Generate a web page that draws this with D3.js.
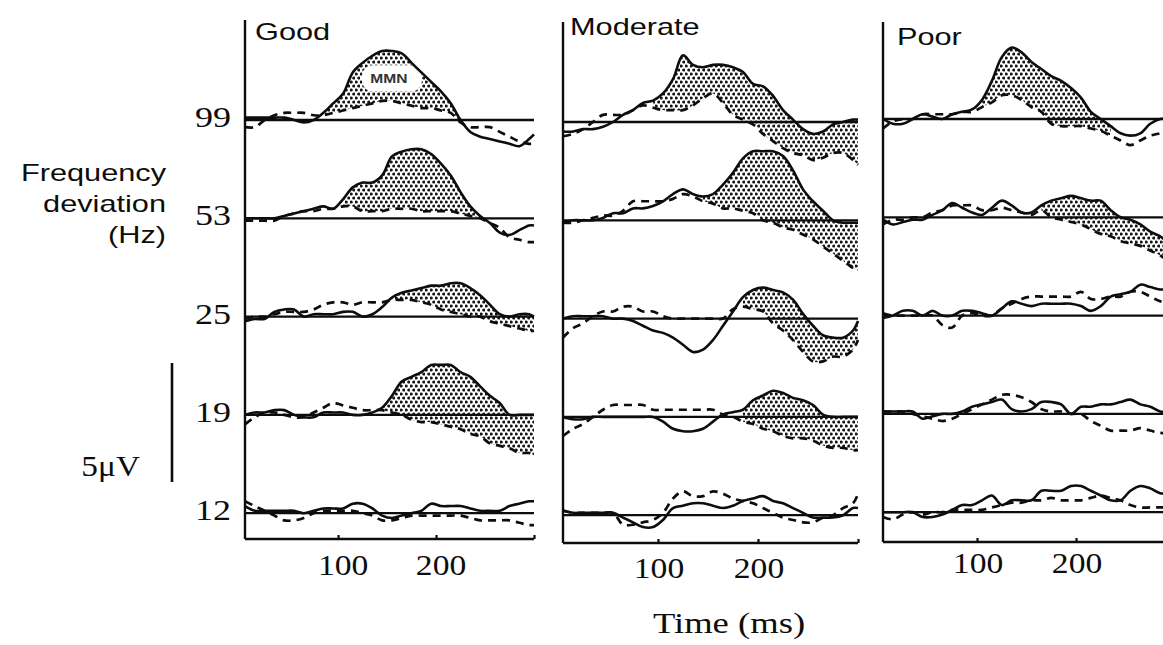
<!DOCTYPE html>
<html>
<head>
<meta charset="utf-8">
<script src="https://cdn.jsdelivr.net/npm/d3@7"></script>
<style>
  html, body { margin: 0; padding: 0; background: #fff; }
  svg { display: block; }
</style>
</head>
<body>
<svg id="chart" width="1163" height="645"></svg>
<script>
// ---- Data ---------------------------------------------------------------
// Sample times (ms) shared by every waveform
const times = [5, 15, 25, 35, 45, 55, 65, 75, 85, 95, 105, 115, 125, 135, 145,
               155, 165, 175, 185, 195, 205, 215, 225, 235, 245, 255, 265, 275,
               285, 295, 300];

const groups = ["Good", "Moderate", "Poor"];
const deviations = ["99", "53", "25", "19", "12"];   // Hz, one row each
const timeTicks = [100, 200];
const scaleBarUV = 5;

// Amplitudes in µV (negative plotted upward). Rows follow `deviations`.
// Deviant responses (solid)
const goodDeviant = [
  [-0.1,-0.1,-0.1,-0.1,-0.1,0,0.1,0,-0.3,-0.7,-1.1,-2.0,-2.4,-2.7,-2.9,-2.9,-2.8,-2.4,-2.0,-1.6,-1.2,-0.7,0,0.5,0.7,0.8,0.9,1.0,1.1,0.8,0.6],
  [0,0,0,0,-0.1,-0.2,-0.3,-0.4,-0.5,-0.4,-0.8,-1.3,-1.5,-1.5,-1.8,-2.6,-2.8,-2.9,-2.9,-2.7,-2.3,-1.8,-1.1,-0.5,-0.1,0.2,0.6,0.7,0.5,0.3,0.3],
  [0.2,0.1,0.1,-0.2,-0.3,-0.3,0,-0.1,-0.1,-0.1,-0.2,-0.2,0,-0.1,-0.4,-0.8,-1.0,-1.1,-1.2,-1.3,-1.3,-1.4,-1.4,-1.2,-0.9,-0.5,-0.1,0,-0.1,-0.1,0],
  [0,-0.1,-0.1,-0.2,-0.2,0,0.1,0.1,-0.1,-0.1,-0.1,0,0,-0.1,-0.3,-0.8,-1.4,-1.6,-1.8,-2.1,-2.1,-2.1,-1.8,-1.6,-1.2,-0.8,-0.5,0,0,0,0],
  [-0.3,-0.1,-0.1,-0.1,-0.1,-0.1,0,-0.1,-0.2,-0.2,-0.2,-0.4,-0.4,-0.2,0.1,0.2,0.1,0,-0.1,-0.4,-0.3,-0.3,-0.3,-0.2,-0.1,-0.1,-0.1,-0.3,-0.4,-0.5,-0.5]
];
const moderateDeviant = [
  [0.4,0.4,0.3,0.3,0.2,0,-0.3,-0.5,-0.8,-0.9,-1.2,-1.8,-2.8,-2.4,-2.3,-2.4,-2.4,-2.3,-2.1,-1.6,-1.5,-1.1,-0.5,-0.1,0.3,0.5,0.4,0.1,0,-0.1,-0.1],
  [0.1,0,0,0,-0.1,-0.3,-0.3,-0.5,-0.5,-0.6,-0.8,-1.1,-1.3,-1.1,-1.0,-1.1,-1.5,-2.0,-2.6,-2.9,-2.9,-2.9,-2.7,-2.1,-1.3,-0.8,-0.4,0,0.1,0.1,0.1],
  [0,-0.1,-0.1,-0.1,-0.1,0,0,0.1,0.3,0.5,0.6,0.8,1.1,1.4,1.3,0.9,0.3,-0.3,-0.9,-1.2,-1.3,-1.2,-1.1,-0.8,-0.2,0.3,0.7,0.8,0.8,0.5,0.1],
  [0,0.1,0.1,0,0,0,0,0,0,0,0.2,0.5,0.6,0.6,0.5,0.2,-0.1,-0.2,-0.3,-0.7,-0.9,-1.1,-1.0,-0.8,-0.7,-0.5,-0.1,0,0,0,0],
  [-0.2,-0.1,-0.1,-0.1,-0.1,-0.1,0.1,0.3,0.5,0.5,0.2,-0.3,-0.4,-0.5,-0.5,-0.4,-0.3,-0.4,-0.6,-0.7,-0.8,-0.6,-0.5,-0.3,-0.1,0.1,0.1,0.1,0,-0.3,-0.3]
];
const poorDeviant = [
  [0,0.2,0.2,0,-0.2,-0.1,0,-0.2,-0.3,-0.4,-0.8,-1.6,-2.6,-3.0,-2.8,-2.4,-2.1,-1.8,-1.6,-1.3,-0.9,-0.3,0,0.3,0.6,0.7,0.6,0.2,0,0,0],
  [0.1,0.3,0.2,0.1,0.1,-0.1,-0.3,-0.6,-0.4,-0.2,-0.1,-0.4,-0.7,-0.5,-0.2,-0.2,-0.5,-0.7,-0.8,-0.9,-0.8,-0.7,-0.7,-0.3,0,0.1,0.3,0.6,0.8,1.1,1.1],
  [0.1,0,-0.2,-0.2,0,-0.2,0,0,-0.2,-0.2,-0.1,0,-0.3,-0.6,-0.5,-0.4,-0.5,-0.5,-0.5,-0.5,-0.4,-0.2,-0.4,-0.8,-0.9,-1.0,-1.3,-1.2,-1.1,-1.1,-1.1],
  [-0.1,-0.1,-0.1,-0.1,0.2,0.1,0,0,-0.1,-0.3,-0.4,-0.5,-0.6,-0.2,-0.1,-0.2,-0.5,-0.5,-0.4,0,-0.3,-0.3,-0.4,-0.4,-0.5,-0.6,-0.4,-0.3,-0.1,-0.1,-0.1],
  [0,0,0,0,0.2,0.2,0.1,-0.1,-0.3,-0.3,-0.5,-0.7,-0.3,-0.5,-0.5,-0.5,-0.9,-0.9,-0.9,-1.1,-1.1,-0.9,-0.7,-0.5,-0.5,-0.9,-1.1,-1.0,-0.8,-0.8,-0.8]
];

// Standard responses (dashed)
const goodStandard = [
  [0.3,0.3,0,-0.2,-0.3,-0.3,-0.3,-0.2,-0.2,-0.3,-0.4,-0.5,-0.6,-0.7,-0.8,-0.8,-0.7,-0.6,-0.5,-0.5,-0.4,-0.3,0.1,0.3,0.3,0.3,0.5,0.7,0.9,1.0,1.0],
  [0.1,0.1,0.1,0.1,-0.1,-0.2,-0.3,-0.3,-0.4,-0.4,-0.5,-0.5,-0.3,-0.3,-0.3,-0.4,-0.4,-0.4,-0.3,-0.3,-0.3,-0.3,-0.2,-0.1,0,0.2,0.4,0.8,0.9,1.0,1.0],
  [0.1,0,0,-0.1,-0.2,-0.2,-0.2,-0.3,-0.5,-0.6,-0.6,-0.5,-0.6,-0.6,-0.6,-0.7,-0.7,-0.7,-0.6,-0.5,-0.3,-0.2,-0.1,0,0,0.2,0.3,0.4,0.5,0.6,0.6],
  [0.4,0.1,-0.1,-0.1,0,0.1,0.1,-0.1,-0.3,-0.5,-0.4,-0.3,-0.2,-0.2,-0.2,-0.1,0,0.2,0.3,0.3,0.4,0.5,0.6,0.8,0.9,1.2,1.3,1.4,1.6,1.6,1.7],
  [-0.5,-0.3,-0.1,0.1,0.3,0.3,0.2,0,-0.1,-0.1,-0.1,-0.1,0,0.1,0.3,0.3,0.2,0.1,0.1,0.1,0.1,0.1,0.1,0.2,0.3,0.3,0.3,0.3,0.4,0.5,0.5]
];
const moderateStandard = [
  [0.6,0.5,0.3,0,-0.3,-0.3,-0.3,-0.5,-0.7,-0.6,-0.5,-0.5,-0.5,-0.7,-1.0,-1.2,-0.8,-0.3,-0.1,0.1,0.5,0.8,1.1,1.3,1.4,1.6,1.5,1.3,1.3,1.6,1.8],
  [0.1,0.1,0,-0.1,-0.2,-0.2,-0.4,-0.8,-0.8,-0.8,-0.8,-0.9,-1.1,-1.0,-0.8,-0.7,-0.5,-0.5,-0.4,-0.3,0,0.1,0.3,0.4,0.6,0.8,1.1,1.4,1.7,2.0,2.1],
  [0.8,0.4,0.2,-0.1,-0.3,-0.3,-0.5,-0.5,-0.3,-0.3,-0.1,0,0,0,0,0,0,-0.4,-0.5,-0.4,-0.3,0.2,0.5,0.9,1.4,1.8,1.8,1.6,1.6,1.3,0.9],
  [0.8,0.5,0.3,0,-0.3,-0.5,-0.5,-0.5,-0.5,-0.3,-0.3,-0.3,-0.3,-0.3,-0.3,-0.3,-0.1,0,0.2,0.3,0.5,0.6,0.8,0.9,0.9,1.0,1.2,1.3,1.3,1.4,1.4],
  [-0.2,-0.1,-0.1,-0.1,-0.1,-0.1,0.4,0.4,0.3,0.2,-0.1,-0.7,-1.0,-0.8,-0.8,-1.0,-0.9,-0.7,-0.6,-0.5,-0.3,-0.1,0.1,0.2,0.3,0.3,0.1,0,-0.3,-0.5,-0.9]
];
const poorStandard = [
  [0.4,0.1,0,0,-0.2,-0.2,-0.2,-0.2,-0.3,-0.3,-0.5,-0.7,-1.0,-1.0,-0.8,-0.5,-0.3,0.2,0.3,0.3,0.3,0.4,0.5,0.7,0.9,1.1,0.9,0.7,0.6,0.5,0.5],
  [0.3,0.1,0.1,0,0,-0.2,-0.3,-0.5,-0.5,-0.5,-0.3,-0.3,-0.4,-0.3,-0.2,-0.1,-0.3,0,0.1,0.2,0.3,0.5,0.7,0.8,1.0,1.1,1.2,1.4,1.6,1.9,2.0],
  [-0.1,0,0,0,0,0,0.4,0.5,0,-0.1,0,0,-0.3,-0.5,-0.7,-0.8,-0.8,-0.8,-0.8,-0.8,-1.0,-0.7,-0.7,-0.8,-0.8,-1.0,-1.0,-0.8,-0.6,-0.5,-0.5],
  [-0.1,-0.1,-0.1,0,0.1,0.2,0.3,0.2,0,-0.2,-0.4,-0.6,-0.8,-0.8,-0.7,-0.5,-0.2,-0.1,-0.1,0,0,0.3,0.5,0.7,0.7,0.7,0.6,0.7,0.8,0.8,0.8],
  [0.2,0.3,0.1,0,0.1,0,0,-0.1,-0.1,-0.1,-0.1,-0.2,-0.3,-0.4,-0.4,-0.5,-0.5,-0.6,-0.5,-0.5,-0.5,-0.6,-0.7,-0.6,-0.5,-0.3,-0.2,-0.2,-0.2,-0.2,-0.2]
];

// Time windows (ms) where the deviant–standard difference is shaded; null = none
const goodWindows     = [[85, 225], [105, 255], [155, 300], [145, 300], null];
const moderateWindows = [[95, 300], [145, 300], [185, 300], [185, 300], null];
const poorWindows     = [[105, 235], [165, 300], null, null, null];

// ---- Layout ---------------------------------------------------------------
const W = 1163, H = 645;
const panelLayout = [
  { left: 245, width: 289, top: 20, bottom: 539, dy: 0,  titleY: 40, tickY: 575 },
  { left: 563, width: 295, top: 22, bottom: 543, dy: 2,  titleY: 35, tickY: 578 },
  { left: 883, width: 292, top: 22, bottom: 542, dy: -1, titleY: 45, tickY: 573 }
];
const rowTop = 120, rowStep = 98.3;
const pxPerUV = 23.8;
const ink = "#0d0d0d";
const SANS = "'Liberation Sans', Arial, Helvetica, sans-serif";
const SERIF = "'Liberation Serif', 'Times New Roman', serif";

const svg = d3.select("#chart");
svg.append("rect").attr("width", W).attr("height", H).attr("fill", "#fff");

// stipple used for the difference areas
const defs = svg.append("defs");
const pat = defs.append("pattern")
  .attr("id", "stipple").attr("patternUnits", "userSpaceOnUse")
  .attr("width", 5).attr("height", 8);
pat.append("circle").attr("cx", 1.25).attr("cy", 2).attr("r", 1.6).attr("fill", "#161616");
pat.append("circle").attr("cx", 3.75).attr("cy", 6).attr("r", 1.6).attr("fill", "#161616");

// horizontally widened text, as in the printed figure
function label(sel, str, x, y, opts) {
  const o = Object.assign({ size: 24, family: SANS, anchor: "start", sx: 1.28 }, opts || {});
  return sel.append("text")
    .attr("transform", `translate(${x},${y}) scale(${o.sx},1)`)
    .attr("text-anchor", o.anchor)
    .attr("font-family", o.family)
    .attr("font-size", o.size)
    .attr("fill", ink)
    .text(str);
}

const panels = [
  { name: groups[0], deviant: goodDeviant,     standard: goodStandard,     windows: goodWindows },
  { name: groups[1], deviant: moderateDeviant, standard: moderateStandard, windows: moderateWindows },
  { name: groups[2], deviant: poorDeviant,     standard: poorStandard,     windows: poorWindows }
];

const rowBase = i => rowTop + i * rowStep;

panels.forEach((p, pi) => {
  const L = panelLayout[pi];
  const g = svg.append("g").attr("class", "panel-" + p.name);
  const x = d3.scaleLinear().domain([times[0], times[times.length - 1]])
    .range([L.left, L.left + L.width]);

  deviations.forEach((dev, ri) => {
    const base = rowBase(ri) + L.dy;
    const y = d3.scaleLinear().domain([0, -scaleBarUV])
      .range([base, base - scaleBarUV * pxPerUV]);
    const pts = times.map((t, k) => ({ t, d: p.deviant[ri][k], s: p.standard[ri][k] }));

    // shaded difference between deviant and standard
    const win = p.windows[ri];
    if (win) {
      const sub = pts.filter(q => q.t >= win[0] && q.t <= win[1]);
      const area = d3.area()
        .x(q => x(q.t)).y0(q => y(q.s)).y1(q => y(q.d))
        .curve(d3.curveCatmullRom.alpha(0.5));
      g.append("path").attr("d", area(sub))
        .attr("fill", "url(#stipple)").attr("stroke", "none");
    }

    // zero line
    g.append("line")
      .attr("x1", x(times[0])).attr("x2", x(times[times.length - 1]))
      .attr("y1", y(0)).attr("y2", y(0))
      .attr("stroke", ink).attr("stroke-width", 2.3);

    if (pi === 0 && ri === 0) {
      // MMN tag inside the first difference area
      const cx = x(155), cy = y(-1.75);
      g.append("rect").attr("x", cx - 30).attr("y", cy - 13)
        .attr("width", 60).attr("height", 26).attr("rx", 11)
        .attr("fill", "#fff");
      label(g, "MMN", cx - 3, cy + 4.5, { size: 12, anchor: "middle", sx: 1.3 })
        .attr("font-weight", "bold").attr("fill", "#333");
    }

    const line = key => d3.line()
      .x(q => x(q.t)).y(q => y(q[key]))
      .curve(d3.curveCatmullRom.alpha(0.5));

    g.append("path").attr("d", line("s")(pts))
      .attr("fill", "none").attr("stroke", ink).attr("stroke-width", 2.7)
      .attr("stroke-dasharray", "8,6");
    g.append("path").attr("d", line("d")(pts))
      .attr("fill", "none").attr("stroke", ink).attr("stroke-width", 2.6)
      .attr("stroke-linejoin", "round");
  });

  // axes
  g.append("line").attr("x1", L.left).attr("x2", L.left)
    .attr("y1", L.top).attr("y2", L.bottom)
    .attr("stroke", ink).attr("stroke-width", 2.4);
  g.append("line").attr("x1", L.left).attr("x2", x(times[times.length - 1]))
    .attr("y1", L.bottom).attr("y2", L.bottom)
    .attr("stroke", ink).attr("stroke-width", 2.4);

  const axis = d3.axisBottom(x).tickValues(timeTicks.concat([times[times.length - 1]]))
    .tickSize(-4).tickFormat("");
  const ag = g.append("g").attr("transform", `translate(0,${L.bottom})`).call(axis);
  ag.select(".domain").remove();
  ag.selectAll(".tick line").attr("stroke", ink).attr("stroke-width", 2.2);

  timeTicks.forEach(t => {
    label(g, String(t), x(t) + (pi === 0 ? 5 : 1), L.tickY,
      { size: 30, family: SERIF, anchor: "middle", sx: 1.12 });
  });

  // group title
  label(g, p.name, L.left + (pi === 0 ? 10 : pi === 1 ? 7 : 14), L.titleY,
    { size: 24, family: SANS, sx: 1.28 });
});

// row labels (frequency deviation)
deviations.forEach((dev, ri) => {
  label(svg, dev, 231, rowBase(ri) + 7, { size: 30, family: SERIF, anchor: "end", sx: 1.2 });
});

// y-axis title
["Frequency", "deviation", "(Hz)"].forEach((s, i) => {
  label(svg, s, 166, 181 + i * 31, { size: 24, family: SANS, anchor: "end", sx: 1.28 });
});

// amplitude scale bar
const barY = d3.scaleLinear().domain([0, scaleBarUV]).range([482, 482 - scaleBarUV * pxPerUV]);
svg.append("line").attr("x1", 172).attr("x2", 172)
  .attr("y1", barY(0)).attr("y2", barY(scaleBarUV))
  .attr("stroke", ink).attr("stroke-width", 2.6);
label(svg, scaleBarUV + "\u03BCV", 140, 476, { size: 29, family: SERIF, anchor: "end", sx: 1.15 });

// x-axis title
label(svg, "Time (ms)", 729, 633, { size: 30, family: SERIF, anchor: "middle", sx: 1.22 });
</script>
</body>
</html>
